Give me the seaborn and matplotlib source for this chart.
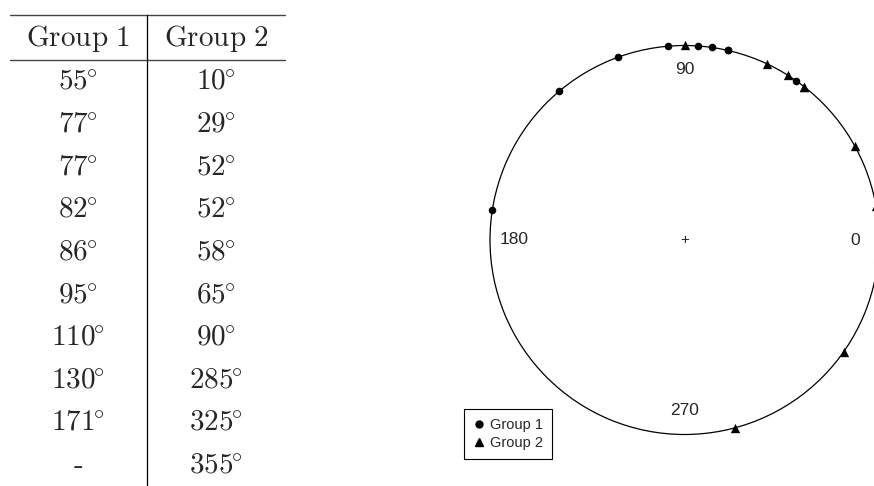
import numpy as np
import pandas as pd
import matplotlib
matplotlib.use("Agg")
import matplotlib.pyplot as plt
from matplotlib.lines import Line2D
import seaborn as sns

# Angles (degrees) for the two groups
group1 = [55, 77, 77, 82, 86, 95, 110, 130, 171]
group2 = [10, 29, 52, 52, 58, 65, 90, 285, 325, 355]
group_names = ["Group 1", "Group 2"]
axis_labels = ["0", "90", "180", "270"]
axis_angles = [0, 90, 180, 270]

sns.set_style("white")
plt.rcParams["font.family"] = ["Liberation Sans", "DejaVu Sans"]
plt.rcParams["mathtext.fontset"] = "cm"

W, H = 874, 486
fig = plt.figure(figsize=(W / 100, H / 100), dpi=100)

# ---------------- table of angles ----------------
tab = fig.add_axes([0, 0, 300 / W, 1])
tab.set_xlim(0, 300)
tab.set_ylim(H, 0)
tab.axis("off")

col_x = [78, 216]
head_y = 38
row0, row_step = 82, 42.6
tsize = 21

for cx, name in zip(col_x, group_names):
    label = r"$\mathrm{" + name.replace(" ", r"\ ") + "}$"
    tab.text(cx, head_y, label, ha="center", va="center", fontsize=tsize)

n_rows = max(len(group1), len(group2))
for c, (cx, vals) in enumerate(zip(col_x, [group1, group2])):
    for i in range(n_rows):
        y = row0 + i * row_step
        if i < len(vals):
            tab.text(cx, y, r"$%d^{\!\!\circ}$" % vals[i], ha="center",
                     va="center", fontsize=tsize)
        else:
            tab.text(cx, y, "-", ha="center", va="center", fontsize=tsize,
                     family="cmr10")

tab.add_line(Line2D([10, 285], [15, 15], color="#444444", lw=1.0))
tab.add_line(Line2D([10, 285], [60, 60], color="#444444", lw=1.0))
tab.add_line(Line2D([147, 147], [15, H], color="black", lw=0.9))

# ---------------- circular plot ----------------
cx_px, cy_px, rad = 684.5, 240, 194.5
ax = fig.add_axes([(cx_px - rad) / W, (H - cy_px - rad) / H,
                   2 * rad / W, 2 * rad / H], projection="polar")

df = pd.DataFrame({
    "theta": np.deg2rad(np.array(group1 + group2, dtype=float)),
    "r": 1.0,
    "group": ["Group 1"] * len(group1) + ["Group 2"] * len(group2),
})

sns.scatterplot(data=df[df.group == "Group 1"], x="theta", y="r", ax=ax,
                marker="o", color="black", s=30, linewidth=0, clip_on=False,
                legend=False)
sns.scatterplot(data=df[df.group == "Group 2"], x="theta", y="r", ax=ax,
                marker="^", color="black", s=45, linewidth=0, clip_on=False,
                legend=False)

ax.set_ylim(0, 1)
ax.set_xticks([])
ax.set_yticks([])
ax.grid(False)
ax.set_xlabel("")
ax.set_ylabel("")
ax.spines["polar"].set_linewidth(0.9)
ax.spines["polar"].set_color("black")
ax.patch.set_alpha(0)

for ang, lab in zip(axis_angles, axis_labels):
    ax.text(np.deg2rad(ang), 0.877, lab, ha="center", va="center", fontsize=12.5)
ax.text(0, 0, "+", ha="center", va="center", fontsize=11)

handles = [
    Line2D([], [], marker="o", ls="none", color="black", ms=5),
    Line2D([], [], marker="^", ls="none", color="black", ms=6),
]
leg = fig.legend(handles, group_names, loc="lower left",
                 bbox_to_anchor=(464 / W, (H - 459) / H), fontsize=10.5,
                 frameon=True, fancybox=False, framealpha=1, edgecolor="black",
                 handlelength=0.8, handletextpad=0.4, labelspacing=0.3,
                 borderpad=0.6, borderaxespad=0)
leg.get_frame().set_linewidth(0.8)

fig.savefig("out.png", dpi=100)
